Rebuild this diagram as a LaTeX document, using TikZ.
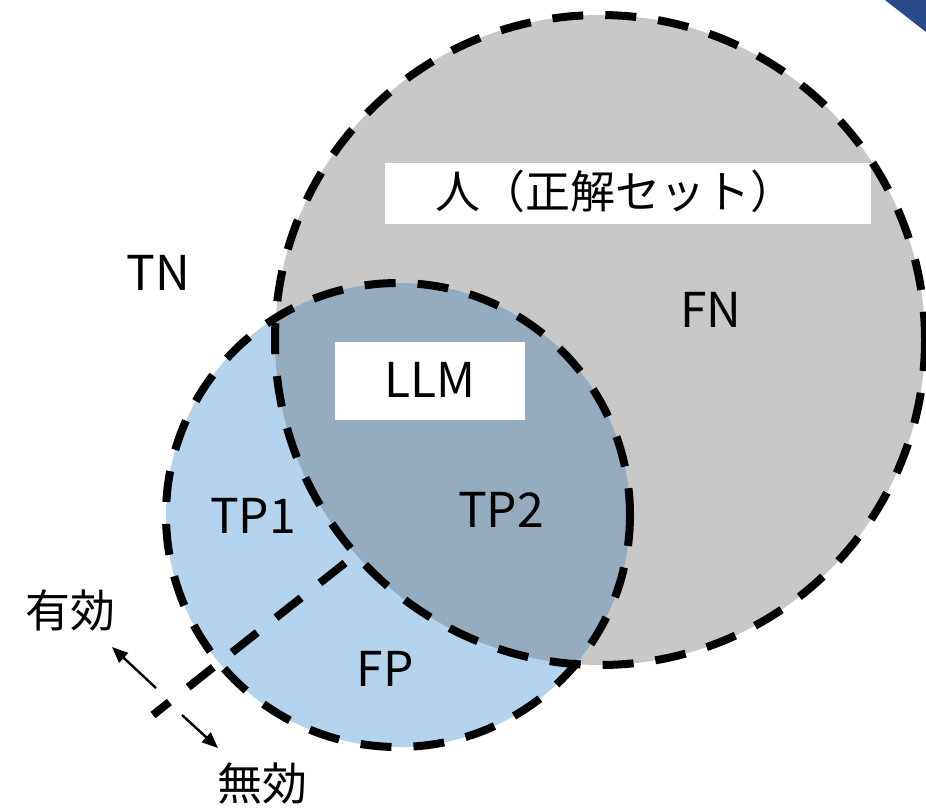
\documentclass[tikz,border=0pt]{standalone}
\usepackage{fontspec}
\setmainfont{Noto Sans CJK JP}
\usetikzlibrary{arrows.meta}
\definecolor{grayfill}{HTML}{C8C8C8}
\definecolor{bluefill}{HTML}{B4D3EC}
\definecolor{interfill}{HTML}{94ACBD}
\definecolor{cornerblue}{HTML}{274A8B}
\begin{document}
\begin{tikzpicture}[x=1pt,y=-1pt,
  setline/.style={line width=8pt, dash pattern=on 31pt off 22pt, black},
  lbl/.style={inner sep=0pt, font=\fontsize{48}{56}\selectfont},
  jlbl/.style={inner sep=0pt, font=\fontsize{45}{54}\selectfont},
  whitebox/.style={fill=white, draw=none},
  arr/.style={line width=2.4pt, -{Triangle[length=16pt,width=13pt]}}]
\useasboundingbox (0,0) rectangle (926,807);
% corner shape
\fill[cornerblue] (885,0) -- (926,0) -- (926,32) -- cycle;
% fills
\fill[grayfill] (600,340) circle[radius=325];
\fill[bluefill] (398,515) circle[radius=232];
\begin{scope}
  \clip (600,340) circle[radius=325];
  \fill[interfill] (398,515) circle[radius=232];
\end{scope}
% white label boxes
\fill[whitebox] (385,163) rectangle (871,224);
\fill[whitebox] (335,342) rectangle (525,420);
% outlines
\draw[setline] (600,340) circle[radius=325];
\draw[setline] (398,515) circle[radius=232];
\coordinate (d1) at (345,563);
\coordinate (d2) at (153,715);
\draw[setline, dash pattern=on 32pt off 24pt] (d1) -- (d2);
% labels
\node[jlbl] (human) at (615,191) {人（正解セット）};
\node[lbl] (llm) at (430,380) {LLM};
\node[lbl] (tn) at (158,273) {TN};
\node[lbl] (fn) at (711,310) {FN};
\node[lbl] (tp1) at (253,516) {TP1};
\node[lbl] (tp2) at (501,510) {TP2};
\node[lbl] (fp) at (385,669) {FP};
\node[jlbl] (valid) at (70,610) {有効};
\node[jlbl] (invalid) at (262,783) {無効};
% arrows
\coordinate (a1s) at (156,688);
\coordinate (a1e) at (112,647);
\coordinate (a2s) at (182,715);
\coordinate (a2e) at (218,748);
\draw[arr] (a1s) -- (a1e);
\draw[arr] (a2s) -- (a2e);
\end{tikzpicture}
\end{document}
